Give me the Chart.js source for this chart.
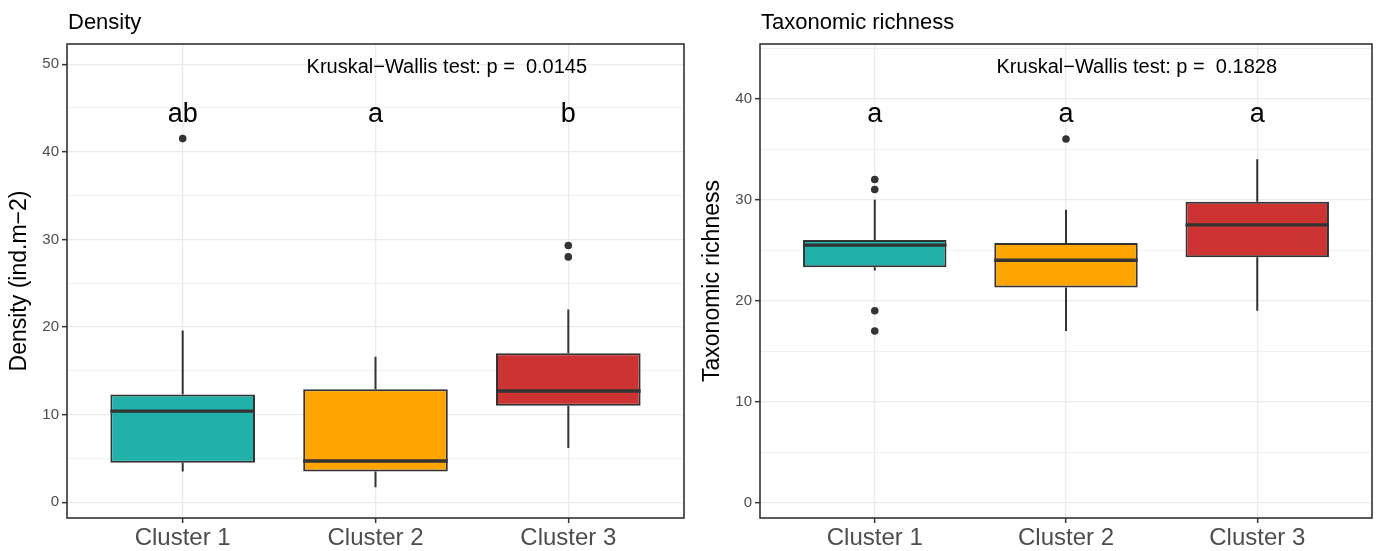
<!DOCTYPE html>
<html>
<head>
<meta charset="utf-8">
<script src="https://cdn.jsdelivr.net/npm/chart.js@4"></script>
<style>
  body { margin: 0; background: #fff; }
  .panel { position: absolute; top: 0; height: 551px; }
  #left { left: 0; width: 690px; }
  #right { left: 690px; width: 689px; }
</style>
</head>
<body>
<div class="panel" id="left"><canvas id="chartDensity"></canvas></div>
<div class="panel" id="right"><canvas id="chartRichness"></canvas></div>
<script>
/* Donnees */
var categories = ['Cluster 1', 'Cluster 2', 'Cluster 3'];
var boxColors = ['#20B2AA', '#FFA500', '#CD3333'];

// Density (ind.m-2)
var densityQ1 = [4.5, 3.5, 11.0];
var densityMedian = [10.4, 4.7, 12.7];
var densityQ3 = [12.3, 12.9, 17.0];
var densityWhiskerLow = [3.5, 1.7, 6.2];
var densityWhiskerHigh = [19.6, 16.6, 22.0];
var densityOutliers = [[41.5], [], [29.3, 28.0]];
var densityLetters = ['ab', 'a', 'b'];
var densityP = '0.0145';
var densityTicks = [0, 10, 20, 30, 40, 50];

// Taxonomic richness
var richnessQ1 = [23.3, 21.3, 24.3];
var richnessMedian = [25.5, 24.0, 27.5];
var richnessQ3 = [26.0, 25.7, 29.8];
var richnessWhiskerLow = [23.0, 17.0, 19.0];
var richnessWhiskerHigh = [30.0, 29.0, 34.0];
var richnessOutliers = [[32, 31, 19, 17], [36], []];
var richnessLetters = ['a', 'a', 'a'];
var richnessP = '0.1828';
var richnessTicks = [0, 10, 20, 30, 40];

var FONT = '"Liberation Sans", Arial, sans-serif';

/* Titre, lettres, test et cadre du panneau */
var panelDecor = {
  id: 'panelDecor',
  afterDatasetsDraw: function(chart, args, o) {
    var c = chart.ctx, a = chart.chartArea;
    var x = chart.scales.x, y = chart.scales.y;
    c.save();
    c.strokeStyle = '#333333';
    c.lineWidth = 1.6;
    c.strokeRect(a.left, a.top, a.right - a.left, a.bottom - a.top);

    c.fillStyle = '#000';
    c.textAlign = 'center';
    c.textBaseline = 'middle';
    c.font = '27px ' + FONT;
    o.letters.forEach(function(l, i) {
      c.fillText(l, x.getPixelForValue(i + 1), y.getPixelForValue(o.letterY));
    });
    c.font = '20px ' + FONT;
    c.fillText('Kruskal\u2212Wallis test: p =  ' + o.p, x.getPixelForValue(o.testX), y.getPixelForValue(o.testY));

    c.textAlign = 'left';
    c.font = '22px ' + FONT;
    c.fillText(o.title, a.left + 1, 23);
    c.restore();
  }
};

function whiskerPoints(lo, q1, q3, hi) {
  var pts = [];
  for (var i = 0; i < lo.length; i++) {
    pts.push({x: i + 1, y: q3[i]}, {x: i + 1, y: hi[i]}, {x: i + 1, y: null});
    pts.push({x: i + 1, y: lo[i]}, {x: i + 1, y: q1[i]}, {x: i + 1, y: null});
  }
  return pts;
}

function medianPoints(med) {
  var pts = [];
  for (var i = 0; i < med.length; i++) {
    pts.push({x: i + 1 - 0.375, y: med[i]}, {x: i + 1 + 0.375, y: med[i]}, {x: i + 1, y: null});
  }
  return pts;
}

function outlierPoints(out) {
  var pts = [];
  out.forEach(function(list, i) {
    list.forEach(function(v) { pts.push({x: i + 1, y: v}); });
  });
  return pts;
}

function boxChart(id, d) {
  var minor = d.ticks.map(function(t) { return t + 5; }).filter(function(t) { return t < d.yMax; });
  var allTicks = d.ticks.concat(minor).sort(function(a, b) { return a - b; });
  var isMajor = function(v) { return d.ticks.indexOf(v) >= 0; };

  return new Chart(document.getElementById(id), {
    type: 'bar',
    data: {
      datasets: [{
        type: 'scatter',
        order: 0,
        data: outlierPoints(d.outliers),
        pointRadius: 3.8,
        pointBackgroundColor: '#333333',
        pointBorderWidth: 0
      }, {
        type: 'line',
        order: 1,
        data: medianPoints(d.median),
        borderColor: '#333333',
        borderWidth: 3.4,
        borderCapStyle: 'butt',
        pointRadius: 0,
        spanGaps: false,
        fill: false
      }, {
        type: 'bar',
        order: 2,
        data: categories.map(function(c, i) { return {x: i + 1, y: [d.q1[i], d.q3[i]]}; }),
        backgroundColor: boxColors,
        borderColor: '#333333',
        borderWidth: 2,
        borderSkipped: false,
        barPercentage: 0.75,
        categoryPercentage: 1
      }, {
        type: 'line',
        order: 3,
        data: whiskerPoints(d.lo, d.q1, d.q3, d.hi),
        borderColor: '#333333',
        borderWidth: 2,
        pointRadius: 0,
        spanGaps: false,
        fill: false
      }]
    },
    options: {
      responsive: true,
      maintainAspectRatio: false,
      animation: false,
      layout: { padding: { top: 44, right: d.padRight, bottom: 0, left: 0 } },
      plugins: {
        legend: { display: false },
        tooltip: { enabled: false },
        panelDecor: {
          title: d.title, letters: d.letters, letterY: d.letterY,
          p: d.p, testX: 2.37, testY: d.testY
        }
      },
      scales: {
        x: {
          type: 'linear',
          min: 0.4,
          max: 3.6,
          offset: false,
          afterBuildTicks: function(s) {
            s.ticks = categories.map(function(c, i) { return {value: i + 1}; });
          },
          afterFit: function(s) { s.height = 33; },
          ticks: {
            callback: function(v) { return categories[v - 1]; },
            color: '#4d4d4d',
            font: { size: 24, family: FONT },
            padding: 1,
            autoSkip: false,
            maxRotation: 0
          },
          grid: { color: '#ebebeb', lineWidth: 1.3, tickLength: 5, tickColor: '#333333', tickWidth: 1.5, offset: false },
          border: { display: false }
        },
        y: {
          type: 'linear',
          min: d.yMin,
          max: d.yMax,
          afterBuildTicks: function(s) {
            s.ticks = allTicks.map(function(v) { return {value: v}; });
          },
          afterFit: function(s) { s.width = d.yWidth; },
          ticks: {
            callback: function(v) { return isMajor(v) ? String(v) : ''; },
            color: '#4d4d4d',
            font: { size: 15, family: FONT },
            padding: 3
          },
          grid: {
            color: '#ebebeb',
            lineWidth: function(ctx) { return ctx.tick && isMajor(ctx.tick.value) ? 1.3 : 0.7; },
            tickLength: 5,
            tickWidth: 1.5,
            tickColor: function(ctx) { return ctx.tick && isMajor(ctx.tick.value) ? '#333333' : 'rgba(0,0,0,0)'; }
          },
          border: { display: false },
          title: {
            display: true,
            text: d.yTitle,
            color: '#000',
            font: { size: 23, family: FONT },
            padding: { top: d.titlePad, bottom: 0 }
          }
        }
      }
    },
    plugins: [panelDecor]
  });
}

boxChart('chartDensity', {
  title: 'Density', yTitle: 'Density (ind.m\u22122)',
  q1: densityQ1, median: densityMedian, q3: densityQ3,
  lo: densityWhiskerLow, hi: densityWhiskerHigh, outliers: densityOutliers,
  letters: densityLetters, letterY: 44.3, p: densityP, testY: 49.6,
  ticks: densityTicks, yMin: -1.8, yMax: 52.3,
  yWidth: 67, padRight: 6, titlePad: 6
});

boxChart('chartRichness', {
  title: 'Taxonomic richness', yTitle: 'Taxonomic richness',
  q1: richnessQ1, median: richnessMedian, q3: richnessQ3,
  lo: richnessWhiskerLow, hi: richnessWhiskerHigh, outliers: richnessOutliers,
  letters: richnessLetters, letterY: 38.45, p: richnessP, testY: 43.1,
  ticks: richnessTicks, yMin: -1.5, yMax: 45.4,
  yWidth: 70, padRight: 7, titlePad: 9
});
</script>
</body>
</html>
